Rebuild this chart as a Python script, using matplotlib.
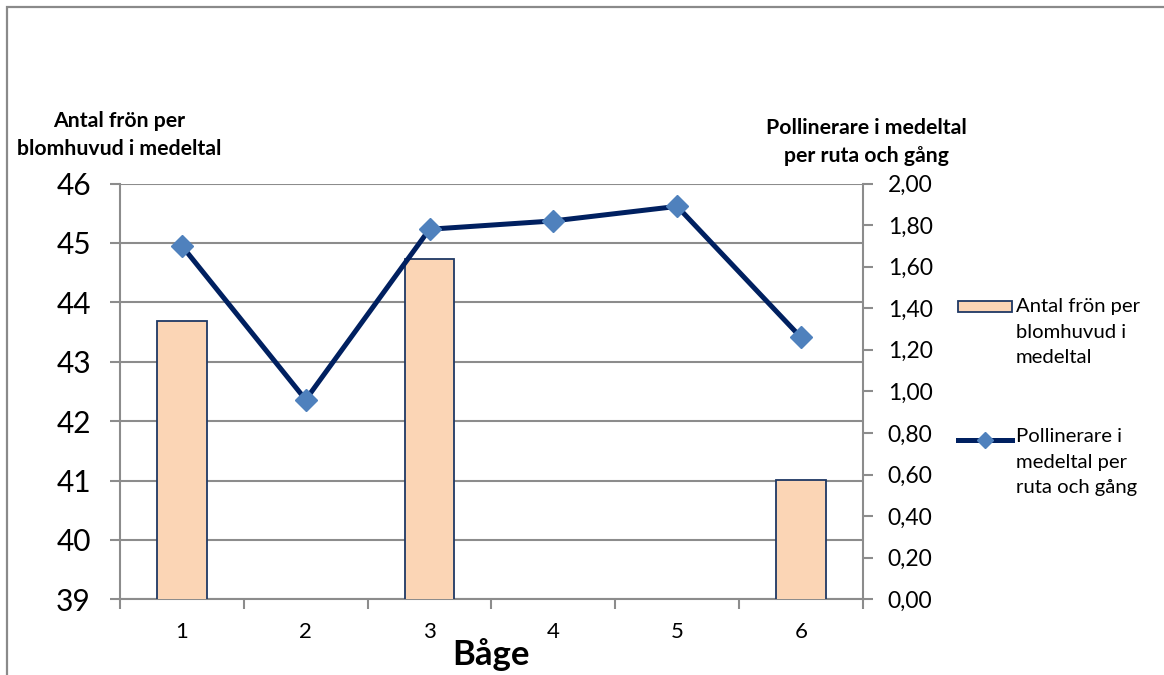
import matplotlib
matplotlib.use("Agg")
import matplotlib.pyplot as plt
from matplotlib.patches import Rectangle
from matplotlib.lines import Line2D
import numpy as np

plt.rcParams['font.family'] = ['Lato', 'DejaVu Sans']

# Data
bage = [1, 2, 3, 4, 5, 6]
fron_per_blomhuvud = [43.69, None, 44.73, None, None, 41.01]
pollinerare = [1.70, 0.96, 1.78, 1.82, 1.89, 1.26]

left_ticks = [39, 40, 41, 42, 43, 44, 45, 46]
right_ticks = [0.0, 0.2, 0.4, 0.6, 0.8, 1.0, 1.2, 1.4, 1.6, 1.8, 2.0]

bar_label = "Antal frön per\nblomhuvud i\nmedeltal"
line_label = "Pollinerare i\nmedeltal per\nruta och gång"
left_title = "Antal frön per\nblomhuvud i medeltal"
right_title = "Pollinerare i medeltal\nper ruta och gång"
x_title = "Båge"

W, H = 1164, 675
fig = plt.figure(figsize=(W / 100, H / 100), dpi=100)
fig.patch.set_facecolor("white")

# Outer chart frame
fig.patches.append(Rectangle((6.5 / W, -0.05), 1.2, 1 - 6.5 / H + 0.05,
                             transform=fig.transFigure, fill=False,
                             edgecolor="#8a8a8a", linewidth=1.6))

ax = fig.add_axes([120 / W, 1 - 599.3 / H, 742.8 / W, (599.3 - 183.5) / H])
ax2 = ax.twinx()

grid_col = "#8c8c8c"
bar_face = "#FBD5B5"
bar_edge = "#1F3864"
line_col = "#002060"
marker_col = "#4F81BD"

# Bars (only categories that have a value)
bx = [x for x, v in zip(bage, fron_per_blomhuvud) if v is not None]
bv = [v for v in fron_per_blomhuvud if v is not None]
ax.bar(bx, bv, width=0.4, color=bar_face, edgecolor=bar_edge, linewidth=1.3, zorder=3)

ax.set_ylim(left_ticks[0], left_ticks[-1])
ax.set_xlim(0.5, 6.5)
ax.set_yticks(left_ticks)
ax.set_yticklabels([str(t) for t in left_ticks])
ax.yaxis.grid(True, color=grid_col, linewidth=1.5, zorder=0)
ax.set_axisbelow(True)

# x axis: ticks at category boundaries, labels at centres
ax.set_xticks(np.arange(0.5, 7.0, 1.0))
ax.set_xticklabels([])
ax.set_xticks(bage, minor=True)
ax.set_xticklabels([str(b) for b in bage], minor=True)
ax.tick_params(axis='x', which='major', direction='out', length=7, width=1.5, color=grid_col)
ax.tick_params(axis='x', which='minor', length=0, pad=16, labelsize=16)
ax.tick_params(axis='y', direction='out', length=7, width=1.5, color=grid_col,
               pad=14, labelsize=21.5)

for s in ['top', 'right']:
    ax.spines[s].set_visible(False)
for s in ['left', 'bottom']:
    ax.spines[s].set_color(grid_col)
    ax.spines[s].set_linewidth(1.5)

# Line on secondary axis
ax2.plot(bage, pollinerare, color=line_col, linewidth=3.6, marker='D',
         markersize=11, markerfacecolor=marker_col, markeredgecolor=marker_col,
         zorder=4, clip_on=False)
ax2.set_ylim(right_ticks[0], right_ticks[-1])
ax2.set_yticks(right_ticks)
ax2.set_yticklabels([f"{t:.2f}".replace('.', ',') for t in right_ticks])
ax2.tick_params(axis='y', direction='out', length=7, width=1.5, color=grid_col,
                pad=11, labelsize=16.5)
for s in ['top', 'left', 'bottom']:
    ax2.spines[s].set_visible(False)
ax2.spines['right'].set_color(grid_col)
ax2.spines['right'].set_linewidth(1.5)

# Axis titles
fig.text(119 / W, 1 - 135 / H, left_title, ha='center', va='center',
         fontsize=15.3, fontweight='bold', linespacing=1.5)
fig.text(866 / W, 1 - 142 / H, right_title, ha='center', va='center',
         fontsize=15.3, fontweight='bold', linespacing=1.45)
fig.text(491 / W, 1 - 655 / H, x_title, ha='center', va='center',
         fontsize=25, fontweight='bold')

# Legend
fig.patches.append(Rectangle((958 / W, 1 - 312 / H), 54 / W, 11 / H,
                             transform=fig.transFigure, facecolor=bar_face,
                             edgecolor=bar_edge, linewidth=1.3))
fig.text(1016 / W, 1 - 298 / H, bar_label, ha='left', va='top',
         fontsize=14.6, linespacing=1.62)
fig.lines.append(Line2D([958 / W, 1012 / W], [1 - 440 / H, 1 - 440 / H],
                        transform=fig.transFigure, color=line_col, linewidth=3.6))
fig.lines.append(Line2D([985 / W], [1 - 440 / H], transform=fig.transFigure,
                        marker='D', markersize=8, color=marker_col, linestyle='none'))
fig.text(1016 / W, 1 - 428 / H, line_label, ha='left', va='top',
         fontsize=14.6, linespacing=1.62)

fig.savefig("out.png", dpi=100)
